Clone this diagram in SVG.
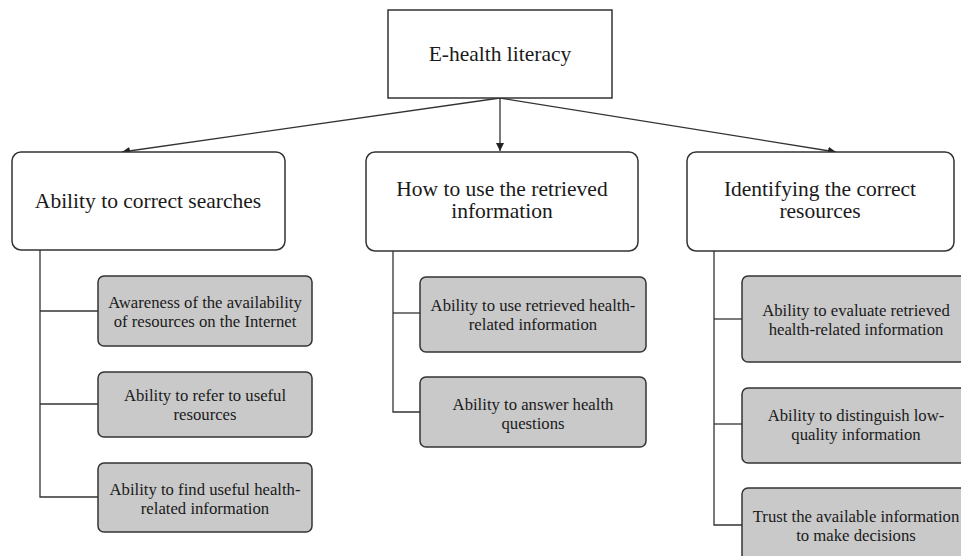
<svg xmlns="http://www.w3.org/2000/svg" width="961" height="556" viewBox="0 0 961 556">
<style>
text{font-family:'Liberation Serif','DejaVu Serif',serif;fill:#1a1a1a;text-anchor:middle}
.big{font-size:21.5px}
.sm{font-size:16.7px}
.main{fill:#fff;stroke:#333;stroke-width:1.5}
.sub{fill:#c9c9c9;stroke:#333;stroke-width:1.5}
.c{fill:none;stroke:#333;stroke-width:1.3}
</style>
<defs>
<marker id="ah" viewBox="0 0 10 10" refX="10" refY="5" markerWidth="8" markerHeight="8" markerUnits="userSpaceOnUse" orient="auto">
<path d="M0,0 L10,5 L0,10 z" fill="#222"/>
</marker>
</defs>
<rect width="961" height="556" fill="#fff"/>
<g id="connectors">
<line class="c" x1="500" y1="98" x2="122" y2="152" marker-end="url(#ah)"/>
<line class="c" x1="500" y1="98" x2="500" y2="151" marker-end="url(#ah)"/>
<line class="c" x1="500" y1="98" x2="836" y2="152" marker-end="url(#ah)"/>
<polyline class="c" points="40,250 40,497 98,497"/>
<line class="c" x1="40" y1="311" x2="98" y2="311"/>
<line class="c" x1="40" y1="404" x2="98" y2="404"/>
<polyline class="c" points="393,251 393,412 420,412"/>
<line class="c" x1="393" y1="313" x2="420" y2="313"/>
<polyline class="c" points="714,251 714,525 742,525"/>
<line class="c" x1="714" y1="319" x2="742" y2="319"/>
<line class="c" x1="714" y1="424" x2="742" y2="424"/>
</g>
<g id="root">
<rect class="main" x="388" y="10" width="224" height="88"/>
<text class="big" x="500" y="61">E-health literacy</text>
</g>
<g id="n1">
<rect class="main" x="12" y="152" width="273" height="98" rx="9"/>
<text class="big" x="148" y="208">Ability to correct searches</text>
</g>
<g id="n2">
<rect class="main" x="366" y="152" width="272" height="99" rx="9"/>
<text class="big" x="502" y="196">How to use the retrieved</text>
<text class="big" x="502" y="218">information</text>
</g>
<g id="n3">
<rect class="main" x="687" y="152" width="267" height="99" rx="9"/>
<text class="big" x="820" y="196">Identifying the correct</text>
<text class="big" x="820" y="218">resources</text>
</g>
<g id="n1a">
<rect class="sub" x="98" y="276" width="214" height="70" rx="6"/>
<text class="sm" x="205" y="308">Awareness of the availability</text>
<text class="sm" x="205" y="327">of resources on the Internet</text>
</g>
<g id="n1b">
<rect class="sub" x="98" y="372" width="214" height="65" rx="6"/>
<text class="sm" x="205" y="401">Ability to refer to useful</text>
<text class="sm" x="205" y="420">resources</text>
</g>
<g id="n1c">
<rect class="sub" x="98" y="463" width="214" height="69" rx="6"/>
<text class="sm" x="205" y="495">Ability to find useful health-</text>
<text class="sm" x="205" y="514">related information</text>
</g>
<g id="n2a">
<rect class="sub" x="420" y="277" width="226" height="75" rx="6"/>
<text class="sm" x="533" y="311">Ability to use retrieved health-</text>
<text class="sm" x="533" y="330">related information</text>
</g>
<g id="n2b">
<rect class="sub" x="420" y="377" width="226" height="70" rx="6"/>
<text class="sm" x="533" y="410">Ability to answer health</text>
<text class="sm" x="533" y="429">questions</text>
</g>
<g id="n3a">
<rect class="sub" x="742" y="276" width="232" height="86" rx="6"/>
<text class="sm" x="856" y="316">Ability to evaluate retrieved</text>
<text class="sm" x="856" y="335">health-related information</text>
</g>
<g id="n3b">
<rect class="sub" x="742" y="388" width="232" height="75" rx="6"/>
<text class="sm" x="856" y="421">Ability to distinguish low-</text>
<text class="sm" x="856" y="440">quality information</text>
</g>
<g id="n3c">
<rect class="sub" x="742" y="488" width="232" height="80" rx="6"/>
<text class="sm" x="856" y="522">Trust the available information</text>
<text class="sm" x="856" y="541">to make decisions</text>
</g>
</svg>
